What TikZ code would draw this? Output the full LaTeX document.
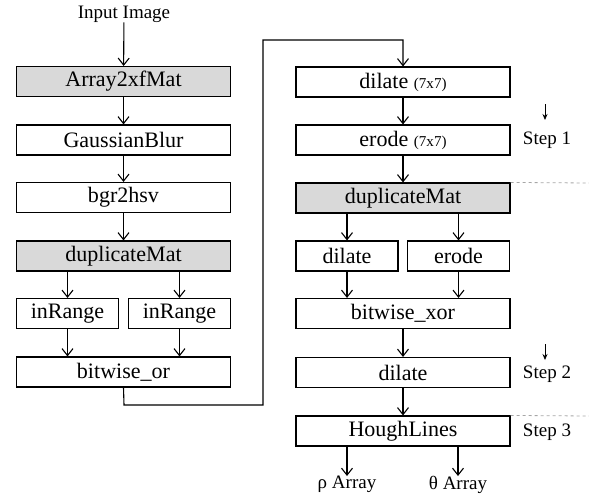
\documentclass[tikz,border=0pt]{standalone}
\usepackage{fontspec}
\usepackage{graphicx}
\setmainfont{Liberation Serif}
\usetikzlibrary{arrows.meta}
\newcommand\kernsz[1]{{\fontsize{13}{15}\selectfont #1}}
\newcommand\bx[1]{\scalebox{1.16}{#1}}
\begin{document}
\begin{tikzpicture}[x=1pt,y=-1pt,
  box/.style={draw,line width=1.1pt,minimum height=30pt,inner sep=0pt,font=\fontsize{19}{21}\selectfont},
  wide/.style={box,minimum width=214pt},
  half/.style={box,minimum width=102pt},
  shade/.style={fill=black!15},
  flow/.style={line width=1.1pt,-{Straight Barb[length=7pt,width=11pt,line width=1.1pt]}},
  steplbl/.style={font=\fontsize{19}{21}\selectfont},
  outlbl/.style={font=\fontsize{19}{21}\selectfont,inner sep=0pt},
  stepmark/.style={line width=0.8pt,-{Stealth[length=6pt,width=5pt]}},
  sep/.style={dashed,draw=black!35,line width=0.8pt}]
\useasboundingbox (0,0) rectangle (589,499);
% left column
\node[outlbl] (in) at (124,14) {Input Image};
\node[wide,shade] (arr) at (123.5,81.5) {\bx{Array2xfMat}};
\node[wide] (gauss) at (123.5,140) {\bx{GaussianBlur}};
\node[wide] (bgr) at (123.5,197.5) {\bx{bgr2hsv}};
\node[wide,shade] (dup) at (123.5,256) {\bx{duplicateMat}};
\node[half] (inr1) at (67.5,313.5) {\bx{inRange}};
\node[half] (inr2) at (179.5,313.5) {\bx{inRange}};
\node[wide] (bor) at (123.5,372) {\bx{bitwise\_or}};
% right column
\node[wide] (dil7) at (403,82) {\bx{dilate \kernsz{(7x7)}}};
\node[wide] (ero7) at (403,140) {\bx{erode \kernsz{(7x7)}}};
\node[wide,shade] (dup2) at (403,198) {\bx{duplicateMat}};
\node[half] (dil) at (347,256) {\bx{dilate}};
\node[half] (ero) at (458.5,256) {\bx{erode}};
\node[wide] (xor) at (403,313.5) {\bx{bitwise\_xor}};
\node[wide] (dil2) at (403,372.5) {\bx{dilate}};
\node[wide] (hough) at (403,431) {\bx{HoughLines}};
\node[outlbl,anchor=north] (rho) at (347,476) {ρ Array};
\node[outlbl,anchor=north] (theta) at (458,476) {θ Array};
% steps
\node[steplbl] (s1) at (547,140) {Step 1};
\node[steplbl] (s2) at (547,374) {Step 2};
\node[steplbl] (s3) at (547,432) {Step 3};
\coordinate (m1a) at (545,104);
\coordinate (m1b) at (545,120);
\coordinate (m2a) at (545,344);
\coordinate (m2b) at (545,360);
\draw[stepmark] (m1a) -- (m1b);
\draw[stepmark] (m2a) -- (m2b);
\coordinate (d1) at (589,183);
\coordinate (d2) at (589,416);
\draw[sep] (dup2.north east) -- (d1);
\draw[sep] (hough.north east) -- (d2);
% connectors left
\draw[flow] (in) -- (arr);
\draw[flow] (arr) -- (gauss);
\draw[flow] (gauss) -- (bgr);
\draw[flow] (bgr) -- (dup);
\draw[flow] (inr1.north |- dup.south) -- (inr1.north);
\draw[flow] (inr2.north |- dup.south) -- (inr2.north);
\draw[flow] (inr1.south) -- (inr1.south |- bor.north);
\draw[flow] (inr2.south) -- (inr2.south |- bor.north);
% cross link
\coordinate (low) at (124,405);
\coordinate (turn) at (263,40);
\draw[flow] (bor.south) -- (low) -| (turn) -| (dil7.north);
% connectors right
\draw[flow] (dil7) -- (ero7);
\draw[flow] (ero7) -- (dup2);
\draw[flow] (dil.north |- dup2.south) -- (dil.north);
\draw[flow] (ero.north |- dup2.south) -- (ero.north);
\draw[flow] (dil.south) -- (dil.south |- xor.north);
\draw[flow] (ero.south) -- (ero.south |- xor.north);
\draw[flow] (xor) -- (dil2);
\draw[flow] (dil2) -- (hough);
\draw[flow] (rho.north |- hough.south) -- (rho.north);
\draw[flow] (theta.north |- hough.south) -- (theta.north);
\end{tikzpicture}
\end{document}
